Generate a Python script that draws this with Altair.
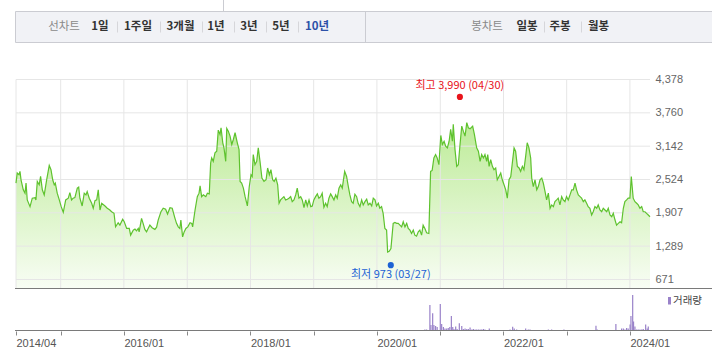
import altair as alt
import pandas as pd

# ---------------- data ----------------
# Closing-price samples: day-of-year and close (KRW), one pair of lists per year
d2014 = [108, 115, 125, 131, 137, 150, 160, 166, 173, 189, 202, 218, 223, 231, 242, 250, 260, 271, 285, 300, 310, 320, 329, 335, 346, 358]
c2014 = [2458, 2644, 2613, 2674, 2519, 2333, 2271, 2458, 2146, 2021, 2178, 2189, 2146, 2488, 2426, 2581, 2333, 2239, 2519, 2786, 2706, 2519, 2426, 2458, 2271, 2146]
d2015 = [4, 16, 30, 45, 54, 64, 73, 83, 97, 105, 112, 125, 137, 147, 154, 166, 180, 189, 199, 209, 218, 228, 238, 257, 270, 285, 295, 309, 318, 333, 343, 359]
c2015 = [2021, 1916, 2146, 2178, 2282, 2146, 2178, 2189, 2364, 2383, 2178, 2034, 2271, 2239, 2301, 2178, 2084, 1991, 2133, 2146, 2333, 1959, 2084, 2034, 1991, 1959, 1927, 1898, 1647, 1722, 1679, 1786]
d2016 = [3, 17, 32, 40, 55, 65, 74, 84, 89, 103, 112, 122, 132, 141, 151, 164, 180, 190, 199, 215, 228, 242, 253, 267, 280, 296, 305, 315, 324, 330, 340, 349, 359]
c2016 = [1741, 1617, 1617, 1493, 1586, 1605, 1573, 1617, 1554, 1804, 1711, 1599, 1554, 1617, 1679, 1630, 1600, 1640, 1773, 1927, 1991, 1972, 1885, 2002, 1991, 1804, 1711, 1647, 1617, 1773, 1461, 1554, 1617]
d2017 = [4, 17, 27, 32, 46, 59, 69, 75, 84, 94, 108, 117, 128, 136, 142, 151, 161, 171, 180, 190, 196, 206, 213, 223, 229, 238, 248, 258, 267, 277, 290, 300, 306, 315, 325, 335, 348, 359]
c2017 = [1647, 1722, 1711, 1647, 1959, 2207, 2271, 2407, 2207, 2239, 2207, 2271, 2258, 2831, 2924, 2861, 3018, 3048, 3440, 3359, 3484, 3205, 3111, 2861, 3471, 3421, 3328, 3173, 3266, 3391, 3205, 3079, 2488, 2458, 2364, 2207, 2034, 2394]
d2018 = [4, 11, 17, 27, 37, 46, 56, 67, 79, 91, 100, 110, 119, 129, 138, 148, 158, 166, 175, 185, 194, 204, 214, 223, 233, 242, 252, 262, 271, 281, 291, 300, 310, 320, 329, 339, 349, 358]
c2018 = [2613, 2581, 2986, 2799, 2861, 3111, 2861, 2551, 2488, 2519, 2738, 2613, 2706, 2519, 2488, 2551, 2426, 2084, 2146, 2178, 2207, 2146, 2159, 2178, 2207, 2114, 2146, 2239, 2364, 2178, 2207, 2146, 2002, 2146, 2034, 2146, 2021, 2034]
d2019 = [2, 12, 22, 31, 41, 50, 60, 70, 79, 89, 99, 108, 118, 128, 137, 147, 157, 166, 180, 191, 201, 210, 220, 229, 239, 249, 258, 268, 278, 287, 297, 307, 316, 326, 336, 345, 355, 364]
c2019 = [2146, 2207, 2258, 2178, 2207, 2271, 2009, 2084, 2021, 2178, 2258, 2207, 2146, 2239, 2178, 2364, 2426, 2364, 2674, 2581, 2394, 2239, 2114, 2084, 2252, 2207, 2084, 2021, 2146, 2053, 2114, 2159, 2053, 2084, 2034, 2178, 2146, 2034]
d2020 = [9, 18, 28, 37, 47, 57, 63, 72, 82, 95, 105, 115, 124, 134, 144, 153, 163, 173, 182, 192, 201, 211, 220, 230, 240, 249, 259, 268, 278, 288, 301, 311, 320, 330, 340, 349, 359]
c2020 = [2084, 1991, 2021, 1898, 1617, 1586, 1181, 1195, 1244, 1711, 1730, 1711, 1711, 1679, 1647, 1741, 1647, 1711, 1617, 1586, 1524, 1586, 1493, 1474, 1554, 1586, 1493, 1679, 1617, 1536, 1524, 2674, 2693, 2924, 2986, 2924, 2799]
d2021 = [4, 13, 23, 32, 42, 52, 61, 71, 76, 86, 96, 105, 115, 125, 134, 144, 154, 163, 173, 179, 188, 198, 211, 221, 231, 240, 250, 259, 269, 275, 283, 292, 302, 311, 321, 330, 340, 350, 359]
c2021 = [3341, 3173, 3234, 3141, 3111, 3234, 3453, 3234, 3546, 3079, 2768, 2799, 3173, 3514, 3421, 3328, 3578, 3484, 3466, 3484, 3514, 3359, 3111, 3048, 2861, 2986, 2924, 2986, 2861, 2986, 2768, 2893, 2768, 2706, 2738, 2519, 2581, 2644, 2519]
d2022 = [4, 14, 23, 33, 43, 52, 62, 71, 81, 91, 100, 110, 119, 129, 138, 148, 158, 164, 173, 183, 193, 202, 212, 222, 231, 241, 250, 260, 270, 279, 289, 298, 308, 317, 327, 337, 346, 356, 365]
c2022 = [2426, 2333, 2178, 2519, 2581, 2831, 3111, 3048, 2768, 2738, 2674, 2768, 2706, 2954, 3205, 3111, 2924, 2551, 2394, 2519, 2333, 2394, 2519, 2551, 2458, 2301, 2146, 2271, 1991, 2053, 2021, 2114, 2146, 2178, 2053, 2207, 2146, 2114, 2207]
d2023 = [10, 20, 30, 39, 49, 58, 68, 78, 87, 97, 106, 116, 125, 135, 145, 154, 164, 174, 183, 193, 203, 212, 222, 232, 241, 251, 261, 270, 280, 289, 299, 309, 318, 328, 337, 347, 356]
c2023 = [2146, 2239, 2333, 2333, 2458, 2333, 2239, 2207, 2178, 2114, 2146, 2084, 2021, 1991, 1866, 1927, 2021, 1991, 2053, 1959, 1927, 1991, 1959, 1927, 1991, 1866, 1834, 1898, 1773, 1679, 1711, 1741, 1722, 1991, 2114, 2146, 2178]
d2024 = [1, 9, 20, 30, 40, 49, 59, 69, 78, 88, 97, 107, 117]
c2024 = [2178, 2581, 2178, 2114, 2084, 2053, 1991, 2021, 1927, 1927, 1898, 1866, 1834]

# Trading volume (shares): day-of-year and volume per year
vd2020 = [278, 288, 307, 313, 323, 330, 340, 349]
vv2020 = [150000, 150000, 2600000, 600000, 1770000, 600000, 500000, 400000]
vd2021 = [1, 9, 19, 28, 38, 47, 56, 65, 73, 80, 90, 98, 111, 125, 134, 144, 154, 163, 173, 183, 192, 202, 211, 221, 231, 240, 250, 259, 284, 330]
vv2021 = [2700000, 700000, 400000, 250000, 250000, 300000, 400000, 1500000, 400000, 200000, 450000, 200000, 770000, 500000, 200000, 250000, 200000, 200000, 350000, 150000, 200000, 150000, 150000, 150000, 150000, 150000, 200000, 150000, 250000, 100000]
vd2022 = [39, 54, 63, 77, 86, 96, 129, 144, 154, 173, 260, 279, 350]
vv2022 = [150000, 430000, 250000, 150000, 100000, 100000, 250000, 150000, 150000, 100000, 150000, 150000, 150000]
vd2023 = [24, 49, 170, 177, 189, 285, 293, 318, 328, 337, 347, 356]
vv2023 = [100000, 100000, 530000, 150000, 100000, 700000, 100000, 250000, 250000, 150000, 300000, 250000]
vd2024 = [2, 7, 17, 22, 30, 40, 49, 59, 69, 78, 92, 101, 107, 113]
vv2024 = [650000, 1500000, 3600000, 950000, 450000, 150000, 150000, 150000, 150000, 200000, 650000, 250000, 450000, 100000]

# Extremes
hi_date, hi_value = "2021-04-30", 3990
lo_date, lo_value = "2020-03-27", 973

# Axis ticks
y_ticks = [671, 1289, 1907, 2524, 3142, 3760, 4378]
x_ticks = ["2014-04-18", "2015-01-01", "2016-01-01", "2017-01-01", "2018-01-01", "2019-01-01",
           "2020-01-01", "2021-01-01", "2022-01-01", "2023-01-01", "2024-01-01"]
x_domain = ["2014-04-18", "2024-04-26"]

# Header texts
line_title = "선차트"
periods = ["1일", "1주일", "3개월", "1년", "3년", "5년", "10년"]
selected_period = "10년"
candle_title = "봉차트"
candles = ["일봉", "주봉", "월봉"]
legend_label = "거래량"


def frame(parts, col):
    rows = []
    for year, days, vals in parts:
        assert len(days) == len(vals), year
        for d, v in zip(days, vals):
            rows.append((pd.to_datetime(f"{year}-{d:03d}", format="%Y-%j"), v))
    return pd.DataFrame(rows, columns=["date", col])


price = frame([(2014, d2014, c2014), (2015, d2015, c2015), (2016, d2016, c2016), (2017, d2017, c2017),
               (2018, d2018, c2018), (2019, d2019, c2019), (2020, d2020, c2020), (2021, d2021, c2021),
               (2022, d2022, c2022), (2023, d2023, c2023), (2024, d2024, c2024)], "close")
volume = frame([(2020, vd2020, vv2020), (2021, vd2021, vv2021), (2022, vd2022, vv2022),
                (2023, vd2023, vv2023), (2024, vd2024, vv2024)], "volume")

# ---------------- layout / style ----------------
W, H = 634, 331
PANEL_BOTTOM = 288
AREA_BASE = 513          # price level at the bottom edge of the price panel
FONT_KR = "Noto Sans CJK KR"
FONT_NUM = "Liberation Sans"
GREEN = "#5ec22e"
PURPLE = "#9982c9"
RED = "#e8141b"
BLUE = "#1c62d4"
GRID = "#e6e6e6"


def dt(s):
    t = pd.Timestamp(s)
    return alt.DateTime(year=t.year, month=t.month, date=t.day)


xscale = alt.Scale(domain=[dt(s) for s in x_domain], nice=False)
x_axis = alt.Axis(
    values=[dt(s) for s in x_ticks],
    labelExpr="year(datum.value) % 2 == 0 ? timeFormat(datum.value, '%Y/%m') : ''",
    grid=False, domain=False, ticks=True, tickSize=4, tickColor="#888888",
    labelAlign="left", labelPadding=2, labelFlush=False, labelOverlap=False,
    labelFont=FONT_NUM, labelFontSize=11, labelColor="#555555", title=None,
)
X = alt.X("date:T", scale=xscale, axis=x_axis, title=None)
yprice = alt.Scale(domain=[-283.6, 5851.5], nice=False, zero=False)
yvol = alt.Scale(domain=[0, 33100000], nice=False, zero=False)


def Yp(field, axis=None):
    return alt.Y(field, scale=yprice, axis=axis, title=None)


dummy = pd.DataFrame({"k": [0]})
layers = []

# header bar
layers.append(alt.Chart(dummy).mark_rect(fill="#f1f2f6", stroke="#cbccd2", strokeWidth=1).encode(
    x=alt.value(-0.5), x2=alt.value(700), y=alt.value(11.5), y2=alt.value(42.5)))
layers.append(alt.Chart(dummy).mark_rule(color="#cbccd2").encode(
    x=alt.value(349.5), y=alt.value(11.5), y2=alt.value(42.5)))
layers.append(alt.Chart(dummy).mark_rule(color="#cbccd2").encode(
    x=alt.value(207.5), y=alt.value(0), y2=alt.value(11.5)))

HEADER_Y = 26.5
period_x = [84, 122, 164.5, 200, 233, 265, 301]
period_sep_x = [101.5, 144.5, 186.5, 218.5, 250.5, 282.5]
candle_x = [511, 544, 582.5]
candle_sep_x = [528.5, 565.5]


def htext(label, xpos, color, weight):
    return alt.Chart(dummy).mark_text(
        text=label, color=color, fontWeight=weight, font=FONT_KR, fontSize=11.5,
        align="center", baseline="middle").encode(x=alt.value(xpos), y=alt.value(HEADER_Y))


layers.append(htext(line_title, 48, "#8a8a8a", "normal"))
for lab, xp in zip(periods, period_x):
    layers.append(htext(lab, xp, "#2c51a8" if lab == selected_period else "#333333", "bold"))
layers.append(htext(candle_title, 471, "#8a8a8a", "normal"))
for lab, xp in zip(candles, candle_x):
    layers.append(htext(lab, xp, "#333333", "bold"))
for xp in period_sep_x + candle_sep_x:
    layers.append(alt.Chart(dummy).mark_rule(color="#d6d6da").encode(
        x=alt.value(xp), y=alt.value(21.5), y2=alt.value(32.5)))

# price area
gradient = alt.Gradient(
    gradient="linear",
    stops=[alt.GradientStop(color="#bdeb98", offset=0), alt.GradientStop(color="#f8fdf4", offset=1)],
    x1=1, x2=1, y1=0, y2=1,
)
layers.append(alt.Chart(price).mark_area(fill=gradient, interpolate="linear").encode(
    x=X, y=Yp("close:Q"), y2=alt.Y2Datum(AREA_BASE)))

# grid
y_axis = alt.Axis(orient="right", values=y_ticks, format=",d", grid=False, ticks=False, domain=False,
                  labelPadding=5, labelFont=FONT_NUM, labelFontSize=11, labelColor="#666666", title=None)
layers.append(alt.Chart(pd.DataFrame({"level": y_ticks})).mark_rule(color=GRID, strokeWidth=1).encode(
    y=Yp("level:Q", y_axis), x=alt.value(0), x2=alt.value(W)))
vg = pd.DataFrame({"date": pd.to_datetime(x_ticks), "top": [y_ticks[-1]] * len(x_ticks)})
layers.append(alt.Chart(vg).mark_rule(color=GRID, strokeWidth=1).encode(
    x=X, y=Yp("top:Q"), y2=alt.value(PANEL_BOTTOM)))

# price line
layers.append(alt.Chart(price).mark_line(color=GREEN, strokeWidth=1.2, interpolate="linear").encode(
    x=X, y=Yp("close:Q")))

# panel separator
layers.append(alt.Chart(dummy).mark_rule(color="#7a7a7a", strokeWidth=1).encode(
    x=alt.value(-1), x2=alt.value(700), y=alt.value(PANEL_BOTTOM + 0.5)))

# volume
layers.append(alt.Chart(volume).mark_rule(color=PURPLE, strokeWidth=1.2).encode(
    x=X, y=alt.Y("volume:Q", scale=yvol, axis=None, title=None), y2=alt.value(H)))
layers.append(alt.Chart(dummy).mark_rule(color="#7a7a7a", strokeWidth=1).encode(
    x=alt.value(-1), x2=alt.value(700), y=alt.value(H - 0.5)))

# legend
layers.append(alt.Chart(dummy).mark_rect(color=PURPLE).encode(
    x=alt.value(652), x2=alt.value(655), y=alt.value(297), y2=alt.value(304.5)))
layers.append(alt.Chart(dummy).mark_text(
    text=legend_label, font=FONT_KR, fontSize=10.5, color="#444444", align="left", baseline="middle"
).encode(x=alt.value(657), y=alt.value(301)))

# extremes
hi = pd.DataFrame({"date": [pd.Timestamp(hi_date)], "close": [hi_value],
                   "label": [f"최고 {hi_value:,} ({hi_date[5:7]}/{hi_date[8:10]})"]})
lo = pd.DataFrame({"date": [pd.Timestamp(lo_date)], "close": [lo_value],
                   "label": [f"최저 {lo_value:,} ({lo_date[5:7]}/{lo_date[8:10]})"]})
layers.append(alt.Chart(hi).mark_circle(size=38, color=RED, opacity=1, yOffset=-3.5, xOffset=-1).encode(
    x=X, y=Yp("close:Q")))
layers.append(alt.Chart(hi).mark_text(color=RED, font=FONT_KR, fontSize=11, dy=-14, dx=-1,
                                      baseline="middle").encode(x=X, y=Yp("close:Q"), text="label:N"))
layers.append(alt.Chart(lo).mark_circle(size=38, color=BLUE, opacity=1, yOffset=2, xOffset=-1).encode(
    x=X, y=Yp("close:Q")))
layers.append(alt.Chart(lo).mark_text(color=BLUE, font=FONT_KR, fontSize=11, dy=12, dx=-1,
                                      baseline="middle").encode(x=X, y=Yp("close:Q"), text="label:N"))

chart = alt.layer(*layers).resolve_scale(y="independent").properties(
    width=W, height=H,
    autosize=alt.AutoSizeParams(type="none"),
    padding={"left": 16, "top": 0, "right": 62, "bottom": 26},
    background="white",
).configure_view(stroke=None)

chart.save("out.html", embed_options={"renderer": "svg", "actions": False})
